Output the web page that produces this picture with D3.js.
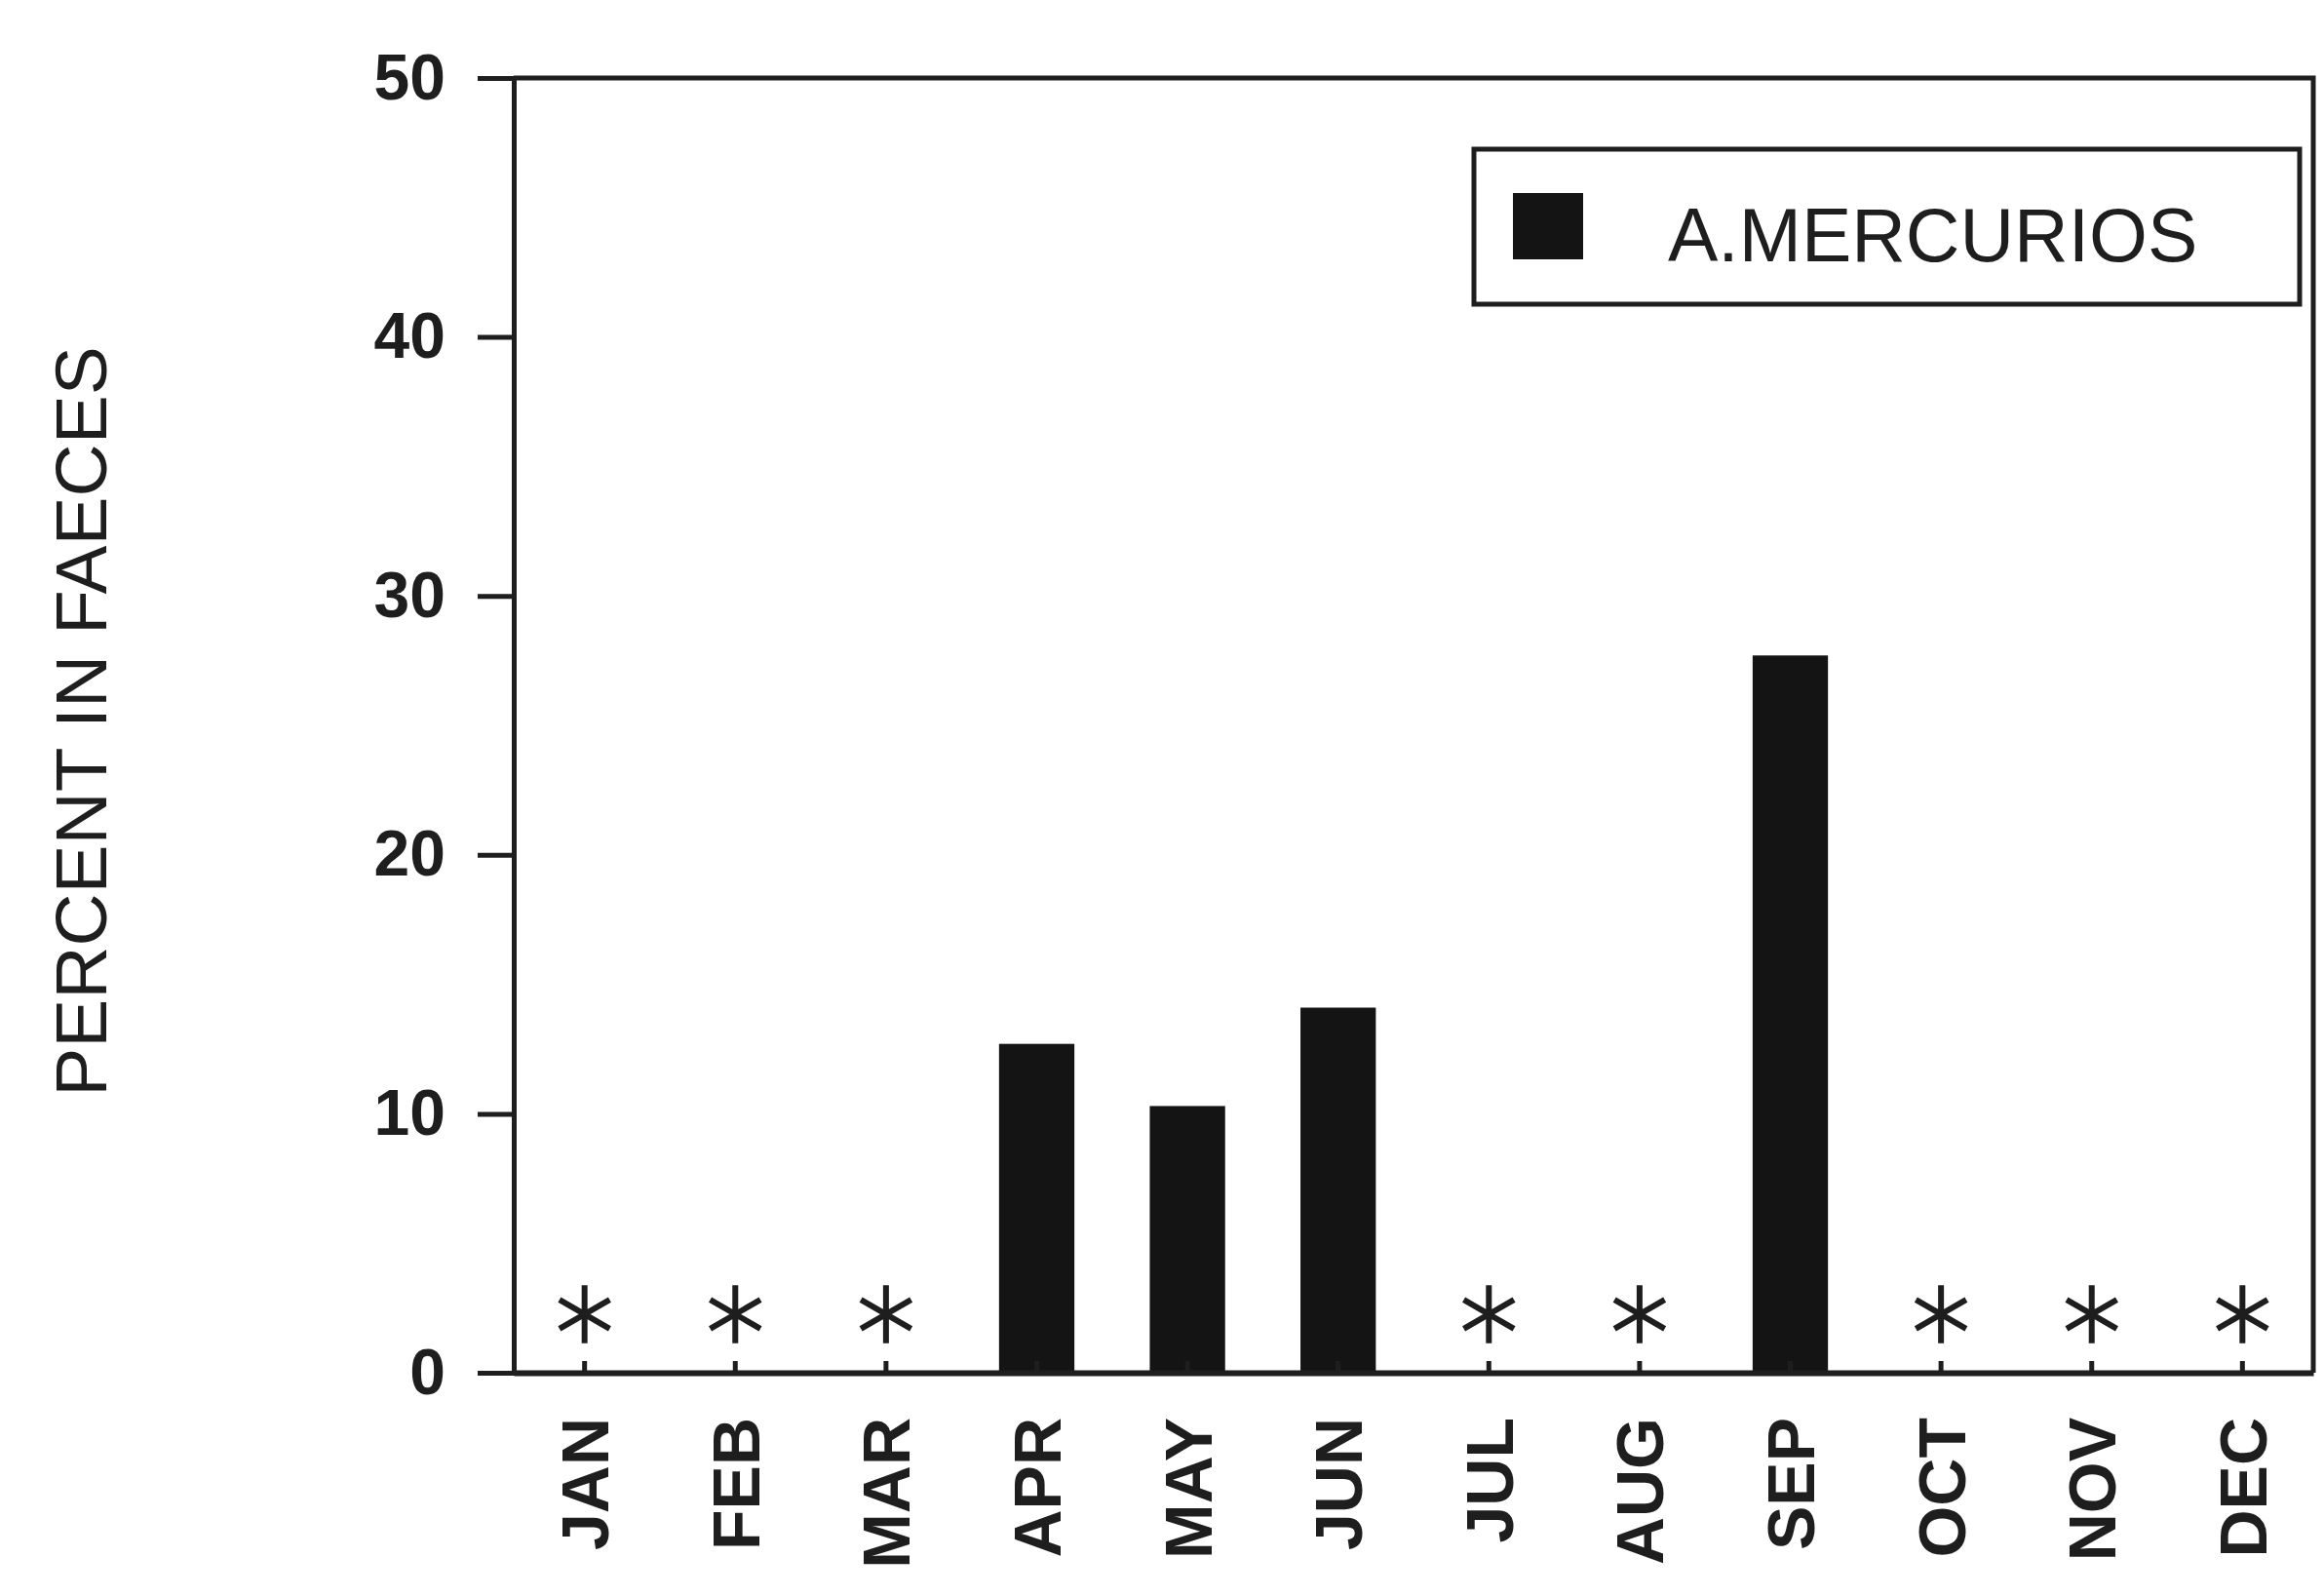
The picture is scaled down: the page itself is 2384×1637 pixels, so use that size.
<!DOCTYPE html>
<html>
<head>
<meta charset="utf-8">
<script src="https://cdn.jsdelivr.net/npm/d3@7"></script>
<style>
  html, body { margin: 0; padding: 0; background: #ffffff; }
  svg { display: block; }
</style>
</head>
<body>
<svg id="chart" width="2384" height="1637"></svg>
<script>
// ---- data ----
const months = ["JAN","FEB","MAR","APR","MAY","JUN","JUL","AUG","SEP","OCT","NOV","DEC"];
// percent in faeces; null = no sample (marked with an asterisk)
const values = [null, null, null, 12.7, 10.3, 14.1, null, null, 27.7, null, null, null];
const yTicks = [0, 10, 20, 30, 40, 50];
const seriesName = "A.MERCURIOS";
const yTitle = "PERCENT IN FAECES";

(function () {
// ---- layout ----
const W = 2384, H = 1637;
const mLeft = 527, mRight = 2373, mTop = 80, mBottom = 1408;
const ink = "#1e1e1e";
const font = "'Liberation Sans', Arial, Helvetica, sans-serif";

const svg = d3.select("#chart");
svg.append("rect").attr("width", W).attr("height", H).attr("fill", "#ffffff");

const x = d3.scaleBand().domain(months).range([mLeft, mRight])
  .paddingInner(0.5).paddingOuter(0.22);
const y = d3.scaleLinear().domain([0, 50]).range([mBottom, mTop]);

// bars
svg.append("g").selectAll("rect")
  .data(months.map((m, i) => ({ m, v: values[i] })).filter(d => d.v !== null))
  .join("rect")
  .attr("x", d => x(d.m))
  .attr("width", x.bandwidth())
  .attr("y", d => y(d.v))
  .attr("height", d => y(0) - y(d.v))
  .attr("fill", "#141414");

// asterisks for months without samples
const ast = d3.symbol().type(d3.symbolAsterisk).size(2500);
svg.append("g").selectAll("path")
  .data(months.map((m, i) => ({ m, v: values[i] })).filter(d => d.v === null))
  .join("path")
  .attr("d", ast)
  .attr("transform", d => `translate(${x(d.m) + x.bandwidth() / 2},${y(0) - 60})`)
  .attr("fill", "none")
  .attr("stroke", ink)
  .attr("stroke-width", 6);

// frame (top and right side)
svg.append("path")
  .attr("d", `M${mLeft},${mTop}H${mRight}V${mBottom}`)
  .attr("fill", "none").attr("stroke", ink).attr("stroke-width", 5);

// y axis
const yAxis = svg.append("g")
  .attr("transform", `translate(${mLeft},0)`)
  .call(d3.axisLeft(y).tickValues(yTicks).tickSize(37).tickPadding(33));
yAxis.select(".domain").attr("stroke", ink).attr("stroke-width", 5);
yAxis.selectAll(".tick line").attr("stroke", ink).attr("stroke-width", 5);
yAxis.selectAll(".tick text")
  .attr("fill", ink)
  .style("font-family", font).style("font-size", "66px").style("font-weight", "bold");

// x axis
const xAxis = svg.append("g")
  .attr("transform", `translate(0,${mBottom})`)
  .call(d3.axisBottom(x).tickSizeInner(-12).tickSizeOuter(0));
xAxis.select(".domain").attr("stroke", ink).attr("stroke-width", 6);
xAxis.selectAll(".tick line").attr("stroke", ink).attr("stroke-width", 5);
xAxis.selectAll(".tick text")
  .attr("fill", ink)
  .attr("transform", "rotate(-90)")
  .attr("text-anchor", "end")
  .attr("x", -46).attr("y", 0).attr("dy", "0.36em")
  .style("font-family", font).style("font-size", "68px").style("font-weight", "bold");

// y title
svg.append("text")
  .attr("transform", "translate(82,740) rotate(-90)")
  .attr("text-anchor", "middle")
  .attr("dy", "0.36em")
  .attr("fill", ink)
  .style("font-family", font).style("font-size", "75px")
  .text(yTitle);

// legend
const lg = svg.append("g");
lg.append("rect")
  .attr("x", 1512).attr("y", 153).attr("width", 847).attr("height", 159)
  .attr("fill", "#ffffff").attr("stroke", ink).attr("stroke-width", 5);
lg.append("rect")
  .attr("x", 1552).attr("y", 198).attr("width", 72).attr("height", 68)
  .attr("fill", "#141414");
lg.append("text")
  .attr("x", 1711).attr("y", 268)
  .attr("fill", ink)
  .style("font-family", font).style("font-size", "77px")
  .text(seriesName);
})();
</script>
</body>
</html>
